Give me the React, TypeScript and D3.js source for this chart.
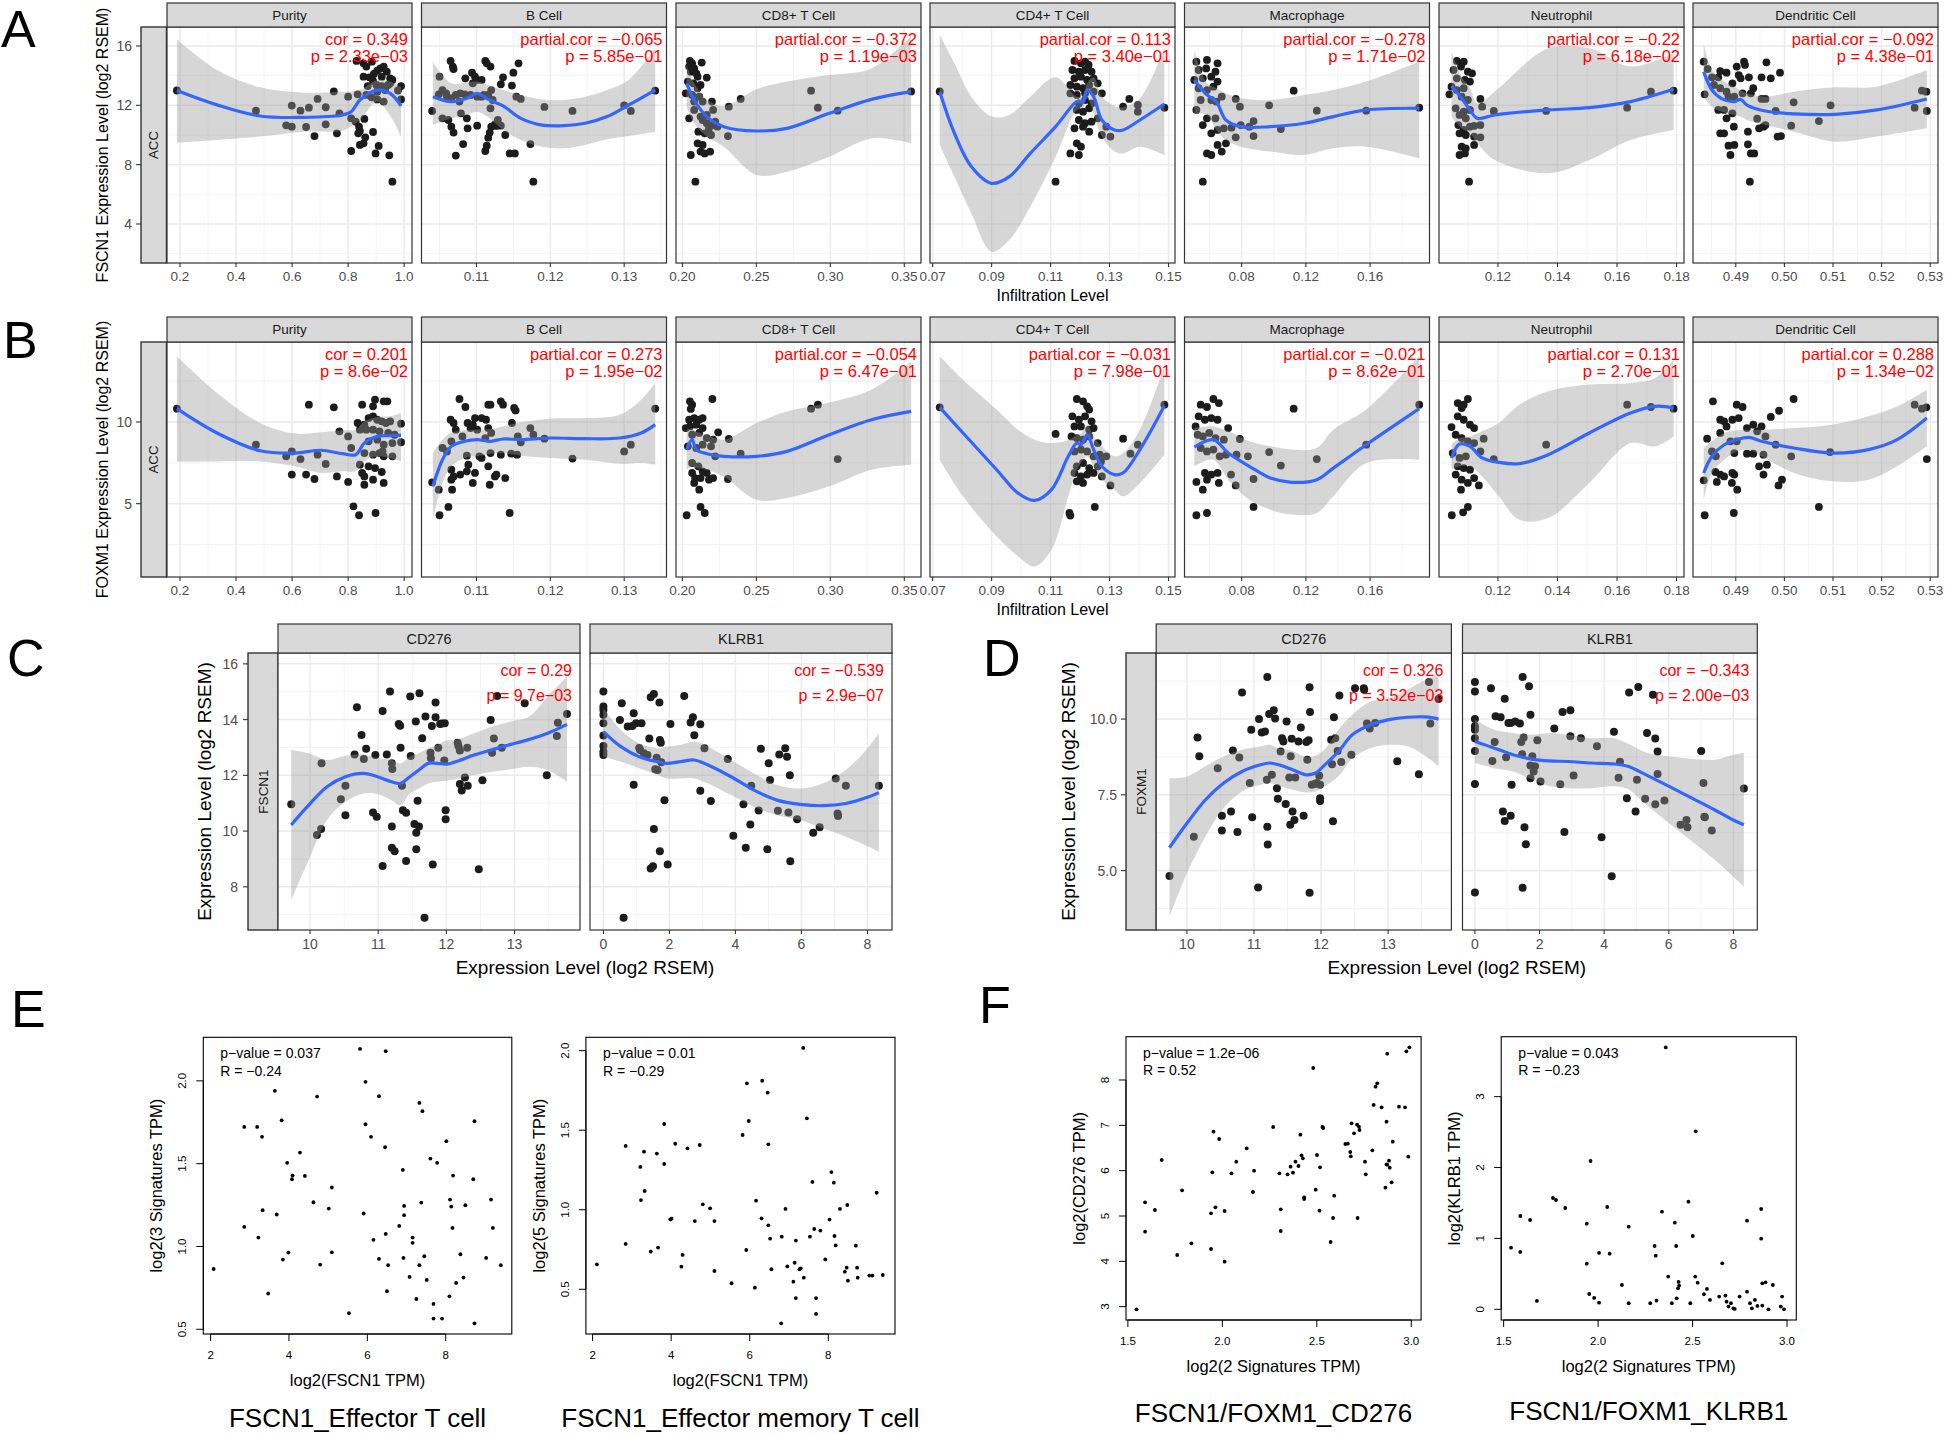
import React from "react";
import * as d3 from "d3";

type P = [number, number];
type F = [number, number, number, number]; // x, fit, lower, upper

const FONT = "'Liberation Sans', Arial, Helvetica, sans-serif";
const M = "\u2212";

// ================= Panels A & B : immune infiltration (TIMER) =================
const CELL_TYPES = ["Purity", "B Cell", "CD8+ T Cell", "CD4+ T Cell", "Macrophage", "Neutrophil", "Dendritic Cell"];
const CELL_XDOMAINS: [number, number][] = [
  [0.1536, 1.028], [0.10256, 0.13573], [0.1957, 0.3613], [0.0691, 0.1522], [0.0444, 0.197], [0.1002, 0.1825], [0.4812, 0.5316],
];
const CELL_XTICKS: string[][] = [
  ["0.2", "0.4", "0.6", "0.8", "1.0"],
  ["0.11", "0.12", "0.13"],
  ["0.20", "0.25", "0.30", "0.35"],
  ["0.07", "0.09", "0.11", "0.13", "0.15"],
  ["0.08", "0.12", "0.16"],
  ["0.12", "0.14", "0.16", "0.18"],
  ["0.49", "0.50", "0.51", "0.52", "0.53"],
];
const ROW_A_YDOMAIN: [number, number] = [1.37, 17.28];
const ROW_B_YDOMAIN: [number, number] = [0.51, 14.9];
const ROW_A_YTICKS = ["4", "8", "12", "16"];
const ROW_B_YTICKS = ["5", "10"];
const ROW_A_TITLE = "FSCN1 Expression Level (log2 RSEM)";
const ROW_B_TITLE = "FOXM1 Expression Level (log2 RSEM)";
const INFIL_TITLE = "Infiltration Level";

const A_ANN: string[][] = [
  ["cor = 0.349", `p = 2.33e${M}03`],
  [`partial.cor = ${M}0.065`, `p = 5.85e${M}01`],
  [`partial.cor = ${M}0.372`, `p = 1.19e${M}03`],
  ["partial.cor = 0.113", `p = 3.40e${M}01`],
  [`partial.cor = ${M}0.278`, `p = 1.71e${M}02`],
  [`partial.cor = ${M}0.22`, `p = 6.18e${M}02`],
  [`partial.cor = ${M}0.092`, `p = 4.38e${M}01`],
];
const B_ANN: string[][] = [
  ["cor = 0.201", `p = 8.6e${M}02`],
  ["partial.cor = 0.273", `p = 1.95e${M}02`],
  [`partial.cor = ${M}0.054`, `p = 6.47e${M}01`],
  [`partial.cor = ${M}0.031`, `p = 7.98e${M}01`],
  [`partial.cor = ${M}0.021`, `p = 8.62e${M}01`],
  ["partial.cor = 0.131", `p = 2.70e${M}01`],
  ["partial.cor = 0.288", `p = 1.34e${M}02`],
];

const A_PURITY_PTS: P[] = [[0.189,13.0],[0.471,11.64],[0.599,11.98],[0.63,11.64],[0.66,11.84],[0.691,12.43],[0.72,11.87],[0.749,12.94],[0.579,10.65],[0.599,10.56],[0.65,10.54],[0.72,10.72],[0.68,9.93],[0.76,10.11],[0.769,11.46],[0.8,12.58],[0.811,8.92],[0.83,14.99],[0.855,14.83],[0.885,14.94],[0.865,14.61],[0.855,13.93],[0.876,13.89],[0.892,14.11],[0.904,14.34],[0.915,14.49],[0.927,14.61],[0.938,14.27],[0.92,13.93],[0.95,13.82],[0.958,13.71],[0.889,13.64],[0.87,13.3],[0.901,13.37],[0.92,13.3],[0.943,13.37],[0.904,12.92],[0.932,13.03],[0.834,12.74],[0.865,12.7],[0.884,12.54],[0.904,12.4],[0.927,12.25],[0.989,13.3],[0.989,12.4],[0.978,13.0],[0.811,11.12],[0.827,10.9],[0.858,11.08],[0.839,10.56],[0.836,10.11],[0.842,10.27],[0.861,9.84],[0.889,10.2],[0.842,9.33],[0.855,9.44],[0.909,9.26],[0.898,8.76],[0.947,8.63],[0.958,6.85],[0.95,13.48]];
const A_PURITY_FIT: F[] = [[0.189,13.0,9.48,16.45],[0.332,12.03,9.66,14.38],[0.486,11.28,9.89,13.21],[0.641,11.19,10.22,12.85],[0.78,11.35,10.29,12.92],[0.811,11.57,10.6,12.94],[0.842,12.36,11.0,13.03],[0.904,13.03,12.25,13.71],[0.95,12.8,11.3,13.6],[0.989,11.96,9.89,13.21]];

const A_BCELL_PTS: P[] = [[0.104,11.62],[0.105,13.93],[0.1049,12.74],[0.1054,13.03],[0.1059,12.81],[0.1065,14.99],[0.1068,14.61],[0.1069,14.45],[0.106,12.58],[0.1066,12.47],[0.1072,12.7],[0.1077,12.25],[0.1054,11.12],[0.1062,11.01],[0.1066,10.56],[0.1069,10.16],[0.1072,8.61],[0.1082,9.39],[0.1087,11.12],[0.1088,10.45],[0.1094,14.2],[0.1085,13.82],[0.1098,13.93],[0.1101,13.71],[0.1107,13.71],[0.1112,14.99],[0.1114,14.83],[0.1119,14.61],[0.112,13.03],[0.1116,12.7],[0.1107,12.58],[0.1101,10.63],[0.1095,13.48],[0.1078,12.81],[0.1084,12.74],[0.1092,12.7],[0.1101,12.58],[0.111,12.7],[0.1119,11.8],[0.1125,10.72],[0.112,10.56],[0.1127,10.61],[0.1133,10.63],[0.1118,10.16],[0.1116,9.82],[0.1114,9.28],[0.1112,8.92],[0.1139,10.0],[0.1145,8.76],[0.1152,8.76],[0.1136,13.89],[0.1133,13.42],[0.1148,13.33],[0.115,14.2],[0.1157,14.83],[0.1154,12.58],[0.116,12.43],[0.1173,9.39],[0.1177,6.85],[0.1192,11.89],[0.123,11.62],[0.13,12.0],[0.1309,11.62],[0.1342,12.99],[0.1079,11.46],[0.1122,12.36],[0.1129,11.01]];
const A_BCELL_FIT: F[] = [[0.1041,12.58,10.67,14.94],[0.1066,12.25,11.12,13.48],[0.1087,12.47,11.35,13.55],[0.1101,12.81,11.57,13.6],[0.1116,12.4,11.19,13.37],[0.1136,11.96,10.34,13.03],[0.116,11.12,9.66,12.7],[0.1189,10.67,9.21,12.4],[0.1218,10.63,9.1,12.36],[0.1247,10.79,9.33,12.58],[0.1277,11.24,9.71,13.03],[0.1306,12.02,9.93,13.71],[0.1342,13.03,10.22,15.84]];

const A_CD8_PTS: P[] = [[0.2051,14.99],[0.2066,14.83],[0.2046,14.61],[0.208,14.49],[0.2131,14.88],[0.2057,14.27],[0.2094,14.16],[0.2103,13.93],[0.2165,13.87],[0.2037,13.6],[0.2074,13.48],[0.2123,13.37],[0.2103,13.15],[0.2023,12.81],[0.2066,12.7],[0.2114,12.58],[0.208,12.25],[0.2137,12.25],[0.22,12.25],[0.2208,11.69],[0.208,11.69],[0.2123,11.24],[0.2046,11.12],[0.2137,11.01],[0.2165,10.79],[0.2208,10.67],[0.2237,10.56],[0.2108,10.22],[0.2151,10.11],[0.2194,10.0],[0.2103,9.44],[0.2137,9.33],[0.2123,8.88],[0.2151,8.76],[0.2188,8.88],[0.2057,8.65],[0.2088,6.85],[0.2308,9.93],[0.2314,11.91],[0.2394,12.43],[0.287,12.99],[0.2916,11.84],[0.305,11.64],[0.3546,12.94],[0.2165,11.35],[0.2222,10.9],[0.218,10.45]];
const A_CD8_FIT: F[] = [[0.2029,13.48,11.91,14.72],[0.208,12.36,10.79,13.48],[0.2165,11.24,9.89,12.4],[0.228,10.56,9.21,11.96],[0.2502,10.27,7.3,13.08],[0.2707,10.45,7.53,13.6],[0.2993,11.46,8.54,14.04],[0.3278,12.4,9.77,14.49],[0.3546,12.92,9.44,16.67]];

const A_CD4_PTS: P[] = [[0.0724,12.94],[0.1117,6.85],[0.1181,14.99],[0.1203,14.83],[0.1217,14.94],[0.1229,14.72],[0.1174,14.38],[0.1196,14.27],[0.1217,14.38],[0.1239,14.27],[0.1181,13.82],[0.1203,13.93],[0.1224,13.71],[0.1246,13.82],[0.1167,13.37],[0.1189,13.26],[0.121,13.15],[0.1231,13.37],[0.126,13.48],[0.1167,12.81],[0.1189,12.7],[0.1217,12.81],[0.1246,12.92],[0.1274,12.81],[0.1196,12.13],[0.1217,12.36],[0.1239,12.13],[0.1189,11.69],[0.121,11.57],[0.1231,11.8],[0.1196,11.01],[0.1217,10.79],[0.1239,10.9],[0.126,11.12],[0.1181,10.45],[0.121,10.56],[0.1231,10.22],[0.1289,10.56],[0.1303,9.89],[0.1189,9.44],[0.1203,9.21],[0.1167,8.76],[0.1196,8.65],[0.1274,10.0],[0.1346,11.91],[0.1367,12.43],[0.1396,12.02],[0.1396,11.57],[0.1486,11.84]];
const A_CD4_FIT: F[] = [[0.0724,12.92,9.33,16.74],[0.0774,10.11,7.19,14.83],[0.0831,7.87,4.72,12.58],[0.09,6.74,2.13,11.24],[0.096,7.19,2.92,11.35],[0.1031,8.76,5.17,12.58],[0.1117,10.56,8.54,13.89],[0.1189,12.25,11.69,12.58],[0.121,12.25,11.8,12.7],[0.1224,13.03,12.47,13.48],[0.1246,12.58,11.46,13.89],[0.1274,11.01,9.89,12.58],[0.1317,10.34,8.88,11.96],[0.1346,10.34,8.76,11.87],[0.1403,11.01,9.21,12.47],[0.1486,12.09,8.65,15.84]];

const A_MACRO_PTS: P[] = [[0.0518,14.94],[0.0584,15.06],[0.065,14.83],[0.0532,14.38],[0.0579,14.49],[0.0637,14.27],[0.0505,13.71],[0.0558,13.82],[0.0611,13.93],[0.065,13.6],[0.0532,13.15],[0.0584,13.03],[0.0624,13.26],[0.0676,12.58],[0.0545,12.36],[0.0611,12.36],[0.0642,12.25],[0.0518,11.69],[0.0584,11.12],[0.0637,11.12],[0.0558,10.67],[0.0611,10.11],[0.065,10.34],[0.0689,10.45],[0.0584,8.76],[0.0611,8.65],[0.065,9.33],[0.0702,9.44],[0.0676,8.88],[0.0558,6.85],[0.0763,12.43],[0.0789,11.91],[0.0737,10.49],[0.0763,9.84],[0.0794,10.67],[0.0848,10.56],[0.0874,10.94],[0.0874,9.93],[0.0971,12.0],[0.1044,10.4],[0.1124,12.99],[0.1268,11.64],[0.1576,11.64],[0.1906,11.84]];
const A_MACRO_FIT: F[] = [[0.0505,13.71,11.46,15.73],[0.0584,12.7,11.35,13.48],[0.0642,12.25,10.34,13.15],[0.0702,11.01,9.66,12.81],[0.0794,10.56,9.21,12.47],[0.0979,10.56,8.88,12.36],[0.1189,10.79,8.65,12.7],[0.1371,11.24,9.1,13.03],[0.1576,11.69,9.21,13.6],[0.1906,11.8,8.43,14.94]];

const A_NEUTRO_PTS: P[] = [[0.1062,14.99],[0.1085,14.94],[0.1076,14.61],[0.1099,14.27],[0.1051,14.38],[0.1113,14.16],[0.1062,13.82],[0.1089,13.71],[0.1106,13.6],[0.1044,13.26],[0.1062,13.03],[0.1085,13.15],[0.1037,12.74],[0.1078,12.58],[0.1099,12.36],[0.1058,11.8],[0.1085,11.57],[0.1106,11.69],[0.1141,12.43],[0.1147,11.91],[0.1186,11.62],[0.1071,11.35],[0.1092,11.12],[0.1067,10.67],[0.1085,10.34],[0.1106,10.56],[0.1141,10.67],[0.112,10.61],[0.1071,10.11],[0.1092,10.0],[0.112,9.89],[0.1141,9.84],[0.1078,9.21],[0.1092,9.1],[0.112,9.33],[0.1071,8.65],[0.1089,8.76],[0.1103,6.85],[0.1362,11.62],[0.1634,11.84],[0.1714,12.92],[0.179,12.99]];
const A_NEUTRO_FIT: F[] = [[0.1044,13.3,11.24,15.62],[0.1078,12.47,10.45,13.93],[0.1106,11.69,10.11,13.15],[0.1131,11.12,9.44,12.13],[0.1189,11.35,8.31,12.92],[0.1369,11.69,7.42,15.84],[0.1507,11.84,8.31,15.84],[0.1645,12.25,9.66,14.61],[0.179,13.08,10.34,15.51]];

const A_DENDR_PTS: P[] = [[0.4834,14.94],[0.4842,14.45],[0.4836,12.74],[0.4851,13.89],[0.4864,13.89],[0.4868,14.31],[0.4881,14.2],[0.4855,13.37],[0.4868,13.15],[0.4881,12.92],[0.4893,13.48],[0.4902,14.61],[0.4906,14.04],[0.491,13.82],[0.4917,14.94],[0.4919,14.72],[0.4927,13.89],[0.4936,13.15],[0.4931,12.81],[0.4914,12.81],[0.4897,12.58],[0.4885,12.58],[0.4864,11.69],[0.4876,11.69],[0.4893,11.46],[0.4881,11.12],[0.4896,10.56],[0.4868,10.11],[0.4876,10.11],[0.4885,9.28],[0.4897,9.33],[0.4889,8.65],[0.4925,10.22],[0.4925,9.37],[0.4931,8.76],[0.4938,8.76],[0.4944,11.1],[0.4948,10.45],[0.4957,10.56],[0.4961,10.67],[0.4953,12.43],[0.4961,12.43],[0.4953,13.89],[0.4963,14.9],[0.4972,13.82],[0.4991,14.2],[0.4982,11.62],[0.4986,9.89],[0.4993,9.93],[0.4929,6.85],[0.5014,10.63],[0.5019,12.2],[0.5071,10.94],[0.5095,12.0],[0.5268,11.84],[0.5283,12.99],[0.5292,12.92],[0.5293,11.62]];
const A_DENDR_FIT: F[] = [[0.4834,14.27,12.58,16.18],[0.4851,13.03,11.91,14.38],[0.4872,12.43,11.57,13.71],[0.4897,12.25,11.35,13.21],[0.491,12.4,11.24,13.03],[0.4923,12.02,11.01,12.81],[0.4961,11.62,10.67,12.58],[0.502,11.42,10.22,12.92],[0.5105,11.39,9.55,13.21],[0.519,11.69,9.89,13.26],[0.5293,12.43,10.45,14.38]];

const B_PURITY_PTS: P[] = [[0.189,10.82],[0.471,8.61],[0.579,7.9],[0.599,8.2],[0.63,7.73],[0.66,11.06],[0.691,8.0],[0.72,7.43],[0.749,10.9],[0.769,9.43],[0.8,9.12],[0.811,8.41],[0.599,6.78],[0.65,6.78],[0.68,6.51],[0.76,6.67],[0.8,6.33],[0.819,4.84],[0.839,4.29],[0.898,4.43],[0.85,11.06],[0.889,10.96],[0.896,11.37],[0.927,11.27],[0.94,11.27],[0.834,9.94],[0.858,9.84],[0.873,10.24],[0.889,10.35],[0.904,10.14],[0.92,10.04],[0.935,9.94],[0.95,10.04],[0.842,9.53],[0.865,9.53],[0.889,9.53],[0.912,9.43],[0.943,9.33],[0.966,9.22],[0.989,9.9],[0.989,8.76],[0.873,8.82],[0.904,8.92],[0.927,8.61],[0.958,8.71],[0.858,8.1],[0.889,8.0],[0.912,8.1],[0.927,7.9],[0.958,7.9],[0.842,7.39],[0.873,7.29],[0.85,6.88],[0.858,6.67],[0.889,6.47],[0.92,6.94],[0.927,6.27],[0.858,6.16],[0.896,7.18],[0.923,8.2]];
const B_PURITY_FIT: F[] = [[0.189,10.82,7.59,14.02],[0.332,9.33,7.59,11.78],[0.486,8.24,7.59,9.94],[0.61,8.1,7.29,9.29],[0.703,8.27,6.88,9.37],[0.78,8.06,6.98,9.49],[0.827,8.0,6.98,9.53],[0.858,8.71,7.59,10.04],[0.904,9.12,7.9,10.31],[0.95,9.16,7.8,10.35],[0.989,9.18,7.59,10.55]];

const B_BCELL_PTS: P[] = [[0.104,6.31],[0.105,4.29],[0.1062,4.8],[0.1049,5.86],[0.1054,8.41],[0.106,8.2],[0.1066,8.82],[0.1069,9.94],[0.1065,10.14],[0.1072,9.53],[0.1077,11.41],[0.1085,10.92],[0.1088,9.94],[0.1081,9.12],[0.1092,9.63],[0.1095,9.84],[0.1098,10.24],[0.1101,9.53],[0.1107,10.24],[0.1113,10.14],[0.1116,11.06],[0.1119,11.06],[0.1133,11.27],[0.1136,11.06],[0.1151,10.86],[0.1153,10.71],[0.1148,9.94],[0.1116,9.63],[0.112,9.33],[0.1112,9.02],[0.1087,7.94],[0.1089,7.39],[0.1098,6.88],[0.1095,6.27],[0.1104,7.9],[0.1107,7.8],[0.1116,7.29],[0.1119,8.1],[0.1125,6.67],[0.1127,6.78],[0.1118,6.16],[0.1133,8.0],[0.1139,6.57],[0.1066,7.08],[0.1069,6.67],[0.1066,6.47],[0.1067,5.86],[0.1087,6.98],[0.1078,6.78],[0.1147,8.06],[0.1155,8.0],[0.1156,9.12],[0.116,8.76],[0.1173,9.63],[0.1177,9.22],[0.1192,8.98],[0.1145,4.43],[0.123,7.76],[0.13,8.2],[0.1309,8.61],[0.1342,10.82]];
const B_BCELL_FIT: F[] = [[0.1041,6.06,4.02,8.1],[0.1054,7.69,6.27,8.92],[0.1066,8.51,7.29,9.33],[0.1084,8.82,7.8,9.49],[0.1101,8.92,7.9,9.53],[0.1119,8.82,8.06,9.57],[0.1136,8.96,8.1,9.73],[0.116,8.92,7.94,9.98],[0.1201,9.02,7.8,10.22],[0.1247,8.98,7.69,10.24],[0.1294,9.02,7.45,10.45],[0.1323,9.33,7.49,11.37],[0.1342,9.84,7.39,12.39]];

const B_CD8_PTS: P[] = [[0.2051,11.27],[0.2066,11.06],[0.2057,10.8],[0.2203,11.41],[0.2046,10.14],[0.208,10.24],[0.2114,10.14],[0.2137,10.24],[0.2051,9.73],[0.2094,9.84],[0.2137,9.63],[0.2023,9.63],[0.2066,9.22],[0.2114,9.33],[0.2165,9.02],[0.2208,8.92],[0.2242,9.37],[0.2037,8.51],[0.2094,8.41],[0.2137,8.61],[0.2194,8.51],[0.2222,7.9],[0.2066,7.49],[0.2108,7.29],[0.2137,6.98],[0.2165,6.88],[0.2066,6.88],[0.2086,6.57],[0.2123,6.57],[0.218,6.47],[0.2208,6.57],[0.208,6.27],[0.2114,5.86],[0.2029,4.29],[0.2123,4.8],[0.2151,4.43],[0.2314,8.96],[0.2394,8.06],[0.2308,6.51],[0.287,10.82],[0.2916,11.06],[0.305,7.73]];
const B_CD8_FIT: F[] = [[0.2029,8.31,7.08,9.53],[0.2066,8.92,7.29,9.6],[0.2094,8.31,7.18,9.4],[0.2165,8.06,7.08,9.22],[0.228,7.9,6.67,8.92],[0.2502,7.9,5.24,9.94],[0.2707,8.2,5.35,10.65],[0.2993,9.22,6.06,11.2],[0.3278,10.14,7.08,11.98],[0.3546,10.65,7.39,13.71]];

const B_CD4_PTS: P[] = [[0.0724,10.9],[0.1117,9.27],[0.1164,4.43],[0.1167,4.27],[0.125,4.8],[0.1346,8.98],[0.1396,8.61],[0.1371,8.06],[0.1289,7.9],[0.1303,6.12],[0.1486,11.06],[0.1189,11.41],[0.121,11.27],[0.1224,10.96],[0.1231,10.76],[0.1174,10.35],[0.1196,10.14],[0.1217,10.35],[0.1239,10.04],[0.1181,9.73],[0.1203,9.73],[0.1231,9.53],[0.1246,9.63],[0.1171,9.12],[0.1189,9.02],[0.121,8.92],[0.1231,9.12],[0.126,8.71],[0.1181,8.2],[0.1203,8.31],[0.1224,8.2],[0.1246,7.9],[0.1267,8.0],[0.1189,7.29],[0.121,7.49],[0.1231,7.18],[0.126,7.29],[0.1181,6.88],[0.1203,6.67],[0.1224,6.78],[0.1246,6.88],[0.1274,6.67],[0.1189,6.37],[0.121,6.27],[0.1271,7.59]];
const B_CD4_FIT: F[] = [[0.0724,10.9,7.69,14.02],[0.0803,9.33,5.45,12.59],[0.0917,7.08,3.0,10.76],[0.0989,5.65,1.78,9.53],[0.1046,5.2,1.16,8.92],[0.1103,5.86,2.18,8.71],[0.116,7.9,5.45,8.9],[0.1189,8.71,7.08,9.2],[0.1203,8.61,7.49,9.3],[0.1224,9.22,7.9,9.84],[0.1246,8.31,7.29,9.12],[0.1274,7.29,6.47,8.51],[0.1317,6.78,5.86,7.9],[0.1346,6.88,5.45,8.1],[0.1403,8.31,6.27,9.53],[0.1486,11.0,8.0,13.41]];

const B_MACRO_PTS: P[] = [[0.0518,4.29],[0.0584,4.43],[0.0874,4.8],[0.0513,9.73],[0.0545,11.06],[0.0584,10.92],[0.0624,11.41],[0.0658,11.16],[0.0532,10.35],[0.0571,10.14],[0.0611,10.24],[0.065,10.14],[0.0716,9.63],[0.0526,9.22],[0.0558,9.12],[0.0598,9.33],[0.0637,9.02],[0.0689,8.92],[0.0789,8.96],[0.0545,8.41],[0.0584,8.2],[0.0624,8.31],[0.0663,7.9],[0.0702,8.0],[0.0768,8.0],[0.0839,7.9],[0.0571,6.88],[0.0611,6.78],[0.065,6.88],[0.0584,6.47],[0.0658,6.27],[0.0558,5.86],[0.0518,6.33],[0.0734,6.78],[0.0763,6.12],[0.0874,6.51],[0.0971,8.16],[0.1044,7.33],[0.1124,10.82],[0.1268,7.73],[0.1576,8.61],[0.1906,11.06]];
const B_MACRO_FIT: F[] = [[0.0505,8.47,7.29,9.63],[0.0624,8.92,7.69,9.73],[0.0716,8.1,6.47,9.43],[0.0848,7.29,5.24,8.82],[0.0979,6.57,4.63,8.51],[0.1111,6.31,4.33,8.31],[0.1268,6.47,4.43,8.41],[0.1371,7.18,5.45,9.53],[0.1576,8.61,7.49,10.76],[0.1906,10.82,7.69,14.02]];

const B_NEUTRO_PTS: P[] = [[0.1065,11.16],[0.1085,11.06],[0.1099,11.41],[0.1078,10.86],[0.1044,9.69],[0.1065,10.35],[0.1085,10.14],[0.1106,9.84],[0.112,9.63],[0.1058,9.22],[0.1078,9.02],[0.1099,8.82],[0.112,8.71],[0.1141,8.2],[0.1152,8.98],[0.1186,7.73],[0.1048,8.1],[0.1071,7.8],[0.1092,7.9],[0.1065,7.29],[0.1085,7.18],[0.1106,7.08],[0.1058,6.78],[0.1078,6.47],[0.1099,6.27],[0.112,6.57],[0.1136,6.12],[0.1076,5.86],[0.1045,4.29],[0.1083,4.47],[0.1099,4.8],[0.1362,8.61],[0.1634,11.06],[0.1714,10.92],[0.179,10.82]];
const B_NEUTRO_FIT: F[] = [[0.1044,7.8,7.08,8.61],[0.1071,8.65,7.29,9.02],[0.1106,8.51,7.29,9.12],[0.1147,7.8,6.67,9.43],[0.1203,7.53,5.45,9.94],[0.1272,7.45,4.02,11.06],[0.1369,8.0,4.12,11.88],[0.1507,9.33,6.27,12.29],[0.1645,10.55,8.71,12.39],[0.1728,10.96,8.51,12.69],[0.179,10.86,9.12,13.82]];

const B_DENDR_PTS: P[] = [[0.4853,11.27],[0.4902,11.06],[0.4914,10.92],[0.5019,11.41],[0.4989,10.69],[0.4972,10.31],[0.4868,10.14],[0.4876,10.04],[0.4893,10.14],[0.4906,10.24],[0.4881,9.73],[0.4868,9.33],[0.4841,8.98],[0.4889,8.82],[0.4902,8.82],[0.4923,9.63],[0.4936,9.84],[0.4944,9.43],[0.4953,9.73],[0.4961,9.12],[0.4982,8.61],[0.5014,7.9],[0.4851,8.2],[0.4859,7.9],[0.4897,8.1],[0.4923,8.06],[0.4936,8.06],[0.4957,8.0],[0.4948,7.29],[0.4964,7.39],[0.4957,6.78],[0.4858,6.94],[0.4868,6.78],[0.4876,6.67],[0.4893,6.88],[0.4897,6.78],[0.4861,6.33],[0.4892,6.27],[0.4903,5.86],[0.4988,6.12],[0.4995,6.47],[0.4834,6.43],[0.4836,4.29],[0.4896,4.43],[0.5071,4.8],[0.5094,8.16],[0.5268,11.06],[0.5283,10.82],[0.5292,10.9],[0.5293,7.73]];
const B_DENDR_FIT: F[] = [[0.4834,6.88,5.24,8.41],[0.4851,7.9,6.88,8.82],[0.4876,8.61,7.69,9.33],[0.4902,8.92,8.2,9.49],[0.4927,9.06,8.31,9.53],[0.4953,8.82,7.9,9.53],[0.502,8.41,6.88,9.63],[0.5097,8.1,6.37,9.84],[0.5173,8.31,6.47,10.35],[0.5232,8.92,7.29,10.96],[0.5293,10.24,8.51,11.98]];

const A_PTS = [A_PURITY_PTS, A_BCELL_PTS, A_CD8_PTS, A_CD4_PTS, A_MACRO_PTS, A_NEUTRO_PTS, A_DENDR_PTS];
const A_FITS = [A_PURITY_FIT, A_BCELL_FIT, A_CD8_FIT, A_CD4_FIT, A_MACRO_FIT, A_NEUTRO_FIT, A_DENDR_FIT];
const B_PTS = [B_PURITY_PTS, B_BCELL_PTS, B_CD8_PTS, B_CD4_PTS, B_MACRO_PTS, B_NEUTRO_PTS, B_DENDR_PTS];
const B_FITS = [B_PURITY_FIT, B_BCELL_FIT, B_CD8_FIT, B_CD4_FIT, B_MACRO_FIT, B_NEUTRO_FIT, B_DENDR_FIT];

// ================= Panels C & D : gene correlations =================
const GENES = ["CD276", "KLRB1"];
const CD_XTICKS = [["10", "11", "12", "13"], ["0", "2", "4", "6", "8"]];
const C_XDOMAINS: [number, number][] = [[9.53, 13.96], [-0.406, 8.745]];
const D_XDOMAINS: [number, number][] = [[9.542, 13.944], [-0.384, 8.74]];
const C_YDOMAIN: [number, number] = [6.45, 16.39];
const D_YDOMAIN: [number, number] = [3.04, 12.18];
const C_YTICKS = ["8", "10", "12", "14", "16"];
const D_YTICKS = ["5.0", "7.5", "10.0"];
const CD_TITLE = "Expression Level (log2 RSEM)";
const C_ANN = [["cor = 0.29", `p = 9.7e${M}03`], [`cor = ${M}0.539`, `p = 2.9e${M}07`]];
const D_ANN = [["cor = 0.326", `p = 3.52e${M}03`], [`cor = ${M}0.343`, `p = 2.00e${M}03`]];

const C_CD276_PTS: P[] = [[9.724,10.96],[10.101,9.86],[10.162,10.07],[10.169,12.43],[10.452,11.14],[10.519,11.63],[10.519,10.57],[10.688,14.44],[10.755,13.45],[10.789,12.59],[10.823,12.95],[10.654,12.75],[10.958,12.73],[10.924,10.67],[10.978,10.51],[11.065,14.31],[11.065,8.75],[11.126,12.75],[11.173,15.01],[11.2,12.43],[11.207,12.23],[11.2,10.16],[11.2,9.4],[11.241,9.28],[11.301,13.84],[11.322,13.78],[11.328,12.99],[11.349,11.63],[11.362,10.75],[11.409,10.66],[11.409,8.93],[11.47,14.83],[11.477,12.69],[11.551,13.93],[11.558,9.94],[11.558,9.35],[11.578,11.09],[11.531,10.25],[11.598,10.16],[11.605,14.95],[11.645,13.33],[11.693,14.11],[11.679,6.89],[11.767,12.81],[11.773,12.61],[11.787,13.77],[11.8,8.8],[11.841,14.61],[11.841,14.08],[11.881,12.99],[11.908,13.84],[11.929,13.86],[11.976,13.87],[11.969,12.53],[11.989,10.75],[11.989,10.42],[12.165,13.17],[12.178,13.04],[12.198,12.89],[12.198,11.69],[12.225,11.46],[12.272,11.92],[12.306,12.99],[12.313,11.63],[12.475,8.63],[12.529,11.82],[12.65,13.99],[12.697,13.32],[12.67,12.81],[12.744,14.85],[12.812,12.99],[13.149,14.59],[13.473,12.0],[13.621,13.41],[13.635,13.89],[13.769,14.2]];
const C_CD276_FIT: F[] = [[9.724,10.22,7.52,12.91],[9.98,10.93,8.96,12.79],[10.249,11.59,10.4,12.55],[10.519,11.95,11.05,12.7],[10.789,12.07,11.35,12.75],[10.991,11.95,11.33,12.61],[11.194,11.77,11.11,12.55],[11.328,11.71,10.93,12.43],[11.463,11.95,11.35,12.67],[11.598,12.19,11.53,12.79],[11.733,12.43,11.71,12.97],[11.868,12.43,11.77,13.09],[12.003,12.4,11.81,13.25],[12.138,12.49,11.86,13.27],[12.407,12.73,12.01,13.51],[12.677,12.93,12.13,13.75],[12.947,13.11,12.22,13.93],[13.216,13.29,12.31,14.11],[13.486,13.51,12.19,14.83],[13.769,13.83,11.77,15.54]];
const C_KLRB1_PTS: P[] = [[0,15.01],[0,14.47],[0,14.35],[0,14.17],[0,13.87],[0,13.43],[0,13.05],[0,12.85],[0,12.73],[0.557,14.59],[0.501,13.99],[0.612,6.89],[0.737,13.75],[0.877,13.77],[0.918,14.23],[0.918,11.66],[0.988,13.87],[1.085,12.98],[1.113,12.91],[1.155,13.87],[1.224,12.79],[1.336,12.73],[1.391,13.32],[1.433,14.8],[1.53,14.92],[1.572,12.22],[1.53,10.07],[1.433,8.66],[1.503,8.74],[1.614,12.63],[1.642,12.19],[1.697,14.61],[1.711,13.27],[1.739,13.17],[1.753,12.47],[1.711,9.28],[1.85,11.11],[1.948,8.8],[2.031,13.84],[2.449,14.85],[2.643,13.9],[2.713,14.08],[2.755,13.44],[2.936,13.83],[2.936,11.45],[3.061,12.97],[3.256,11.08],[3.77,12.59],[3.937,9.83],[4.243,10.96],[4.313,9.4],[4.452,10.24],[4.48,11.63],[4.703,10.74],[4.772,12.95],[5.009,12.43],[4.967,9.35],[5.05,11.83],[5.287,10.73],[5.329,12.75],[5.51,12.97],[5.565,12.67],[5.607,10.67],[5.649,12.0],[5.663,8.92],[5.871,10.42],[6.358,9.94],[6.553,10.14],[7.04,11.89],[7.096,10.63],[7.11,10.54],[7.346,11.63],[8.348,11.63]];
const C_KLRB1_FIT: F[] = [[0,13.57,12.67,14.41],[0.529,13.03,12.49,13.63],[1.085,12.67,12.25,13.15],[1.642,12.49,12.01,12.97],[1.92,12.43,11.89,13.03],[2.337,12.49,11.89,13.09],[2.755,12.55,11.89,13.21],[3.172,12.37,11.71,13.03],[3.868,11.95,11.29,12.55],[4.563,11.47,10.87,12.07],[5.259,11.11,10.57,11.65],[5.955,10.96,10.4,11.53],[6.65,10.91,10.1,11.71],[7.346,10.99,9.8,12.19],[8.042,11.23,9.44,13.03],[8.348,11.38,9.26,13.51]];

const D_CD276_PTS: P[] = [[9.74,4.82],[10.103,6.12],[10.158,9.39],[10.185,8.77],[10.459,8.38],[10.521,6.81],[10.521,6.32],[10.658,6.95],[10.685,8.96],[10.753,6.27],[10.781,8.73],[10.822,10.88],[10.938,7.89],[10.973,6.76],[10.959,9.65],[11.062,4.44],[11.075,10.0],[11.116,9.56],[11.164,9.59],[11.192,8.0],[11.199,11.39],[11.199,6.45],[11.205,5.86],[11.226,10.17],[11.267,8.16],[11.295,10.29],[11.315,10.02],[11.342,7.72],[11.356,7.37],[11.397,8.93],[11.418,9.37],[11.438,9.26],[11.486,9.92],[11.473,7.2],[11.527,8.07],[11.541,6.51],[11.562,9.35],[11.548,8.77],[11.575,6.95],[11.603,6.67],[11.616,8.07],[11.664,9.26],[11.699,9.72],[11.74,6.81],[11.795,8.66],[11.781,9.24],[11.815,9.3],[11.829,11.05],[11.829,4.27],[11.836,10.23],[11.863,7.83],[11.904,7.86],[11.938,7.89],[11.973,8.13],[11.986,7.83],[11.986,7.39],[11.986,7.3],[12.151,9.32],[12.164,8.51],[12.178,6.63],[12.192,10.06],[12.212,9.37],[12.247,8.95],[12.274,10.78],[12.301,8.58],[12.452,8.82],[12.507,11.02],[12.637,11.02],[12.644,10.97],[12.685,9.85],[12.726,9.69],[12.808,9.87],[13.137,8.61],[13.459,8.18],[13.61,11.22],[13.63,9.85],[13.753,10.66]];
const D_CD276_FIT: F[] = [[9.74,5.76,3.48,8.05],[10.0,6.56,4.91,8.1],[10.274,7.33,6.12,8.44],[10.548,7.89,7.06,8.77],[10.822,8.27,7.61,8.99],[11.096,8.49,7.83,9.1],[11.233,8.55,7.89,9.15],[11.37,8.49,7.8,9.04],[11.575,8.33,7.67,8.95],[11.781,8.16,7.58,8.75],[11.918,8.22,7.61,8.8],[12.055,8.49,7.78,9.0],[12.26,8.93,8.11,9.65],[12.466,9.48,8.71,10.14],[12.74,9.81,9.04,10.58],[13.014,9.98,9.15,10.69],[13.288,10.06,9.1,10.97],[13.562,10.07,8.77,11.3],[13.753,10.0,8.44,11.46]];
const D_KLRB1_PTS: P[] = [[0,11.22],[0,10.91],[0,10.0],[0,9.76],[0,9.65],[0,9.37],[0,8.95],[0,7.86],[0,4.28],[0.497,11.02],[0.54,8.62],[0.611,9.24],[0.639,10.09],[0.795,10.06],[0.866,6.95],[0.923,6.64],[0.923,10.67],[0.966,8.74],[1.037,9.87],[1.108,9.87],[1.136,7.83],[1.108,6.81],[1.25,9.92],[1.392,9.85],[1.435,9.24],[1.463,8.84],[1.477,11.39],[1.506,9.39],[1.534,6.43],[1.577,5.87],[1.477,4.43],[1.676,11.08],[1.719,10.14],[1.719,8.05],[1.719,8.47],[1.776,8.77],[1.818,8.27],[1.861,8.44],[1.932,9.3],[2.031,7.94],[2.457,9.69],[2.642,7.85],[2.713,10.23],[2.77,6.27],[2.955,10.29],[2.955,9.43],[3.054,8.14],[3.281,9.37],[3.778,9.1],[3.92,6.1],[4.233,4.81],[4.304,9.58],[4.446,8.06],[4.489,8.59],[4.702,7.39],[4.773,10.88],[4.972,6.95],[5.014,8.0],[5.057,11.06],[5.27,7.37],[5.327,9.54],[5.511,10.8],[5.582,9.36],[5.582,7.19],[5.653,8.93],[5.653,8.19],[5.866,7.31],[6.364,6.51],[6.548,6.67],[6.577,6.43],[7.003,8.95],[7.074,7.89],[7.102,6.78],[7.116,6.76],[7.33,6.32],[8.324,7.71]];
const D_KLRB1_FIT: F[] = [[0,9.26,8.55,9.98],[0.611,9.04,8.38,9.65],[1.179,8.82,8.27,9.54],[1.747,8.68,8.02,9.48],[2.315,8.62,7.78,9.54],[2.884,8.6,7.72,9.48],[3.594,8.55,7.72,9.37],[4.304,8.52,7.78,9.37],[4.73,8.44,7.69,9.19],[5.298,8.16,7.17,8.9],[6.009,7.78,6.56,8.77],[6.719,7.39,5.96,8.68],[7.429,7.0,5.35,8.66],[7.997,6.67,4.8,8.82],[8.324,6.51,4.47,8.88]];

// ================= Panels E & F : GEPIA correlations =================
const E1_PTS: P[] = [[2.078,0.864],[2.859,1.722],[2.859,1.118],[3.188,1.722],[3.219,1.054],[3.313,1.662],[3.328,1.219],[3.469,0.716],[3.641,1.94],[3.688,1.193],[3.813,1.762],[3.844,0.921],[3.953,1.505],[3.984,0.963],[4.078,1.406],[4.094,1.428],[4.281,1.567],[4.406,1.426],[4.625,1.267],[4.719,1.905],[4.797,0.891],[5.016,1.229],[5.094,1.356],[5.094,0.965],[5.531,0.597],[5.813,2.193],[5.906,1.199],[5.953,1.994],[5.953,1.738],[6.094,1.662],[6.156,1.04],[6.297,1.907],[6.297,0.925],[6.453,1.599],[6.469,1.076],[6.5,0.73],[6.531,0.887],[6.469,2.179],[6.813,1.124],[6.906,1.462],[6.938,1.189],[6.938,1.245],[6.922,0.931],[7.078,0.816],[7.156,1.054],[7.156,1.022],[7.25,0.683],[7.328,0.887],[7.328,1.867],[7.406,1.817],[7.375,1.265],[7.453,0.941],[7.516,0.798],[7.609,1.531],[7.688,0.653],[7.688,0.565],[7.781,1.505],[7.906,0.565],[8.016,1.636],[8.094,0.699],[8.109,1.283],[8.141,1.241],[8.172,1.112],[8.188,1.428],[8.266,0.78],[8.375,0.953],[8.453,0.812],[8.5,1.249],[8.703,1.406],[8.734,1.756],[8.734,0.536],[9.031,0.931],[9.156,1.283],[9.203,1.112],[9.406,0.887]];
const E2_PTS: P[] = [[2.109,0.657],[2.842,1.401],[2.842,0.785],[3.216,1.269],[3.309,1.365],[3.231,1.061],[3.325,1.118],[3.48,0.737],[3.667,0.762],[3.636,1.353],[3.823,1.539],[3.823,1.288],[3.979,0.94],[4.01,0.944],[4.104,1.415],[4.291,0.716],[4.26,0.642],[4.415,1.386],[4.602,0.929],[4.727,1.407],[4.805,1.034],[4.992,1.009],[5.101,0.929],[5.101,0.615],[5.538,0.538],[5.818,1.47],[5.927,1.795],[5.912,0.747],[5.974,1.558],[6.13,0.51],[6.161,1.057],[6.301,0.946],[6.317,1.811],[6.457,1.736],[6.473,1.411],[6.473,0.902],[6.519,0.818],[6.55,0.626],[6.8,0.286],[6.815,0.831],[6.909,1.005],[6.956,0.644],[7.111,0.548],[7.143,0.667],[7.174,0.806],[7.174,0.445],[7.267,0.626],[7.299,0.632],[7.361,2.017],[7.376,0.573],[7.454,1.575],[7.532,0.831],[7.595,1.175],[7.641,0.879],[7.688,0.445],[7.688,0.345],[7.797,0.869],[7.922,0.688],[8.031,0.938],[8.078,1.237],[8.14,1.17],[8.156,0.835],[8.187,0.776],[8.296,1.005],[8.42,0.611],[8.467,0.636],[8.483,1.03],[8.498,0.554],[8.701,0.774],[8.732,0.636],[8.748,0.573],[9.044,0.586],[9.122,0.586],[9.231,1.107],[9.387,0.59]];
const F1_PTS: P[] = [[1.546,2.941],[1.591,5.301],[1.591,4.654],[1.643,5.132],[1.679,6.235],[1.761,4.14],[1.787,5.566],[1.836,4.397],[1.94,4.272],[1.94,5.059],[1.947,5.963],[1.953,6.86],[1.963,5.191],[1.983,6.699],[2.012,5.11],[2.012,3.993],[2.048,5.941],[2.074,6.199],[2.129,6.493],[2.162,5.529],[2.168,6.0],[2.269,6.963],[2.302,5.941],[2.309,5.147],[2.309,4.669],[2.345,5.919],[2.361,6.088],[2.374,5.956],[2.387,6.199],[2.403,6.103],[2.413,6.794],[2.419,6.338],[2.426,6.272],[2.433,5.375],[2.433,5.412],[2.481,8.265],[2.494,5.581],[2.501,6.346],[2.514,5.118],[2.517,6.074],[2.53,6.963],[2.534,6.941],[2.573,4.426],[2.586,4.956],[2.592,5.449],[2.651,6.588],[2.664,6.596],[2.677,6.412],[2.68,6.316],[2.684,7.044],[2.697,6.824],[2.713,7.015],[2.716,4.956],[2.723,6.971],[2.726,6.897],[2.755,6.199],[2.759,5.919],[2.794,6.449],[2.801,7.449],[2.811,7.853],[2.82,7.926],[2.843,7.397],[2.869,7.081],[2.869,6.14],[2.873,8.581],[2.863,5.625],[2.873,6.132],[2.882,6.221],[2.886,6.066],[2.896,5.743],[2.902,6.64],[2.935,7.412],[2.967,7.397],[2.974,8.632],[2.984,6.309],[2.99,8.721]];
const F2_PTS: P[] = [[1.539,0.87],[1.588,0.809],[1.588,1.316],[1.64,1.26],[1.676,0.118],[1.761,1.57],[1.777,1.542],[1.826,1.429],[1.94,1.208],[1.94,0.644],[1.953,0.216],[1.96,2.092],[1.979,0.16],[2.005,0.094],[2.005,0.795],[2.048,1.443],[2.061,0.785],[2.126,0.343],[2.162,0.085],[2.162,1.166],[2.276,0.085],[2.299,0.893],[2.305,0.757],[2.309,0.122],[2.338,1.378],[2.371,0.461],[2.39,0.085],[2.406,1.222],[2.413,0.893],[2.416,0.155],[2.423,0.296],[2.426,0.386],[2.429,0.334],[2.358,3.695],[2.478,1.519],[2.488,0.085],[2.501,1.034],[2.514,0.461],[2.517,2.511],[2.527,0.376],[2.56,0.212],[2.576,0.287],[2.592,0.132],[2.641,0.179],[2.657,0.649],[2.674,0.193],[2.68,0.108],[2.69,0.038],[2.703,0.085],[2.716,0.014],[2.723,0.005],[2.749,0.179],[2.788,1.251],[2.788,0.249],[2.804,0.085],[2.814,0.014],[2.83,0.132],[2.843,0.047],[2.863,1.415],[2.863,0.997],[2.869,0.367],[2.869,0.052],[2.886,0.381],[2.902,0.0],[2.925,0.343],[2.967,0.038],[2.974,0.179],[2.984,0.0]];

const E_XTICKS = ["2", "4", "6", "8"];
const E_YTICKS = ["0.5", "1.0", "1.5", "2.0"];
const F_XTICKS = ["1.5", "2.0", "2.5", "3.0"];
const F1_YTICKS = ["3", "4", "5", "6", "7", "8"];
const F2_YTICKS = ["0", "1", "2", "3"];
const E1_DOM = { x: [1.814, 9.686] as [number, number], y: [0.4716, 2.263] as [number, number] };
const E2_DOM = { x: [1.83, 9.697] as [number, number], y: [0.219, 2.084] as [number, number] };
const F1_DOM = { x: [1.49, 3.052] as [number, number], y: [2.706, 8.955] as [number, number] };
const F2_DOM = { x: [1.487, 3.049] as [number, number], y: [-0.151, 3.846] as [number, number] };
const E1_ANN = [`p${M}value = 0.037`, `R = ${M}0.24`];
const E2_ANN = [`p${M}value = 0.01`, `R = ${M}0.29`];
const F1_ANN = [`p${M}value = 1.2e${M}06`, "R = 0.52"];
const F2_ANN = [`p${M}value = 0.043`, `R = ${M}0.23`];
const E_XTITLE = "log2(FSCN1 TPM)";
const F_XTITLE = "log2(2 Signatures TPM)";
const YTITLES = ["log2(3 Signatures TPM)", "log2(5 Signatures TPM)", "log2(CD276 TPM)", "log2(KLRB1 TPM)"];
const PLOT_TITLES = ["FSCN1_Effector T cell", "FSCN1_Effector memory T cell", "FSCN1/FOXM1_CD276", "FSCN1/FOXM1_KLRB1"];

// ======================================================================
function minorBreaks(maj: number[], dom: [number, number]) {
  if (maj.length < 2) return [];
  const step = maj[1] - maj[0];
  const all = [maj[0] - step / 2];
  for (let i = 0; i < maj.length - 1; i++) all.push((maj[i] + maj[i + 1]) / 2);
  all.push(maj[maj.length - 1] + step / 2);
  return all.filter((v) => v > dom[0] && v < dom[1]);
}

type GGProps = {
  id: string; x0: number; y0: number; w: number; h: number; stripTop: number;
  xDom: [number, number]; yDom: [number, number]; xTicks: string[]; yTicks: string[];
  pts: P[]; fit: F[]; ann: string[]; strip: string;
  annSize: number; annDx: number; annY: [number, number];
  tickSize: number; tickGap: number; stripSize: number; r: number;
};

function GGPanel(p: GGProps) {
  const xs = d3.scaleLinear().domain(p.xDom).range([p.x0, p.x0 + p.w]);
  const ys = d3.scaleLinear().domain(p.yDom).range([p.y0 + p.h, p.y0]);
  const xMaj = p.xTicks.map(Number);
  const yMaj = p.yTicks.map(Number);
  const area = d3.area<F>().x((d) => xs(d[0])).y0((d) => ys(d[2])).y1((d) => ys(d[3])).curve(d3.curveCatmullRom.alpha(0.5));
  const line = d3.line<F>().x((d) => xs(d[0])).y((d) => ys(d[1])).curve(d3.curveCatmullRom.alpha(0.5));
  const bottom = p.y0 + p.h;
  return (
    <g>
      <defs>
        <clipPath id={`clip-${p.id}`}>
          <rect x={p.x0} y={p.y0} width={p.w} height={p.h} />
        </clipPath>
      </defs>
      <rect x={p.x0} y={p.y0} width={p.w} height={p.h} fill="#ffffff" />
      <g clipPath={`url(#clip-${p.id})`}>
        {minorBreaks(xMaj, p.xDom).map((v, i) => (
          <line key={`xm${i}`} x1={xs(v)} x2={xs(v)} y1={p.y0} y2={bottom} stroke="#F2F2F2" strokeWidth={0.9} />
        ))}
        {minorBreaks(yMaj, p.yDom).map((v, i) => (
          <line key={`ym${i}`} x1={p.x0} x2={p.x0 + p.w} y1={ys(v)} y2={ys(v)} stroke="#F2F2F2" strokeWidth={0.9} />
        ))}
        {xMaj.map((v, i) => (
          <line key={`xM${i}`} x1={xs(v)} x2={xs(v)} y1={p.y0} y2={bottom} stroke="#EBEBEB" strokeWidth={1.5} />
        ))}
        {yMaj.map((v, i) => (
          <line key={`yM${i}`} x1={p.x0} x2={p.x0 + p.w} y1={ys(v)} y2={ys(v)} stroke="#EBEBEB" strokeWidth={1.5} />
        ))}
        {p.pts.map((d, i) => (
          <circle key={`p${i}`} cx={xs(d[0])} cy={ys(d[1])} r={p.r} fill="#1c1c1c" />
        ))}
        <path d={area(p.fit) || ""} fill="#999999" fillOpacity={0.4} />
        <path d={line(p.fit) || ""} fill="none" stroke="#3366FF" strokeWidth={3.2} />
      </g>
      {p.ann.map((t, i) => (
        <text key={`a${i}`} x={p.x0 + p.w + p.annDx} y={p.y0 + p.annY[i]} textAnchor="end" dominantBaseline="central"
          fontSize={p.annSize} fill="#FF0000">{t}</text>
      ))}
      <rect x={p.x0} y={p.y0} width={p.w} height={p.h} fill="none" stroke="#333333" strokeWidth={1.2} />
      <rect x={p.x0} y={p.stripTop} width={p.w} height={p.y0 - p.stripTop} fill="#D9D9D9" stroke="#333333" strokeWidth={1.2} />
      <text x={p.x0 + p.w / 2} y={(p.stripTop + p.y0) / 2} textAnchor="middle" dominantBaseline="central" fontSize={p.stripSize} fill="#1A1A1A">{p.strip}</text>
      {p.xTicks.map((t, i) => (
        <g key={`xt${i}`}>
          <line x1={xs(xMaj[i])} x2={xs(xMaj[i])} y1={bottom} y2={bottom + 4} stroke="#333333" strokeWidth={1.1} />
          <text x={xs(xMaj[i])} y={bottom + p.tickGap} textAnchor="middle" dominantBaseline="central" fontSize={p.tickSize} fill="#4D4D4D">{t}</text>
        </g>
      ))}
    </g>
  );
}

function RowStrip(props: { x: number; y0: number; h: number; w: number; label: string; size: number;
  yDom: [number, number]; yTicks: string[]; tickSize: number; labelGap: number }) {
  const ys = d3.scaleLinear().domain(props.yDom).range([props.y0 + props.h, props.y0]);
  return (
    <g>
      <rect x={props.x} y={props.y0} width={props.w} height={props.h} fill="#D9D9D9" stroke="#333333" strokeWidth={1.4} />
      <text transform={`translate(${props.x + props.w / 2},${props.y0 + props.h / 2}) rotate(-90)`} textAnchor="middle"
        dominantBaseline="central" fontSize={props.size} fill="#1A1A1A">{props.label}</text>
      {props.yTicks.map((t, i) => {
        const y = ys(Number(t));
        return (
          <g key={i}>
            <line x1={props.x - 5} x2={props.x} y1={y} y2={y} stroke="#333333" strokeWidth={1.1} />
            <text x={props.x - props.labelGap} y={y} textAnchor="end" dominantBaseline="central" fontSize={props.tickSize} fill="#4D4D4D">{t}</text>
          </g>
        );
      })}
    </g>
  );
}

function BasePlot(p: { x0: number; y0: number; w: number; h: number; xDom: [number, number]; yDom: [number, number];
  xTicks: string[]; yTicks: string[]; pts: P[]; ann: string[]; xTitle: string; yTitle: string; title: string; titleY: number }) {
  const xs = d3.scaleLinear().domain(p.xDom).range([p.x0, p.x0 + p.w]);
  const ys = d3.scaleLinear().domain(p.yDom).range([p.y0 + p.h, p.y0]);
  const xv = p.xTicks.map(Number);
  const yv = p.yTicks.map(Number);
  const bottom = p.y0 + p.h;
  const cx = p.x0 + p.w / 2;
  return (
    <g>
      <rect x={p.x0} y={p.y0} width={p.w} height={p.h} fill="#ffffff" stroke="#000000" strokeWidth={1.1} />
      <line x1={xs(xv[0])} x2={xs(xv[xv.length - 1])} y1={bottom} y2={bottom} stroke="#000" strokeWidth={1} />
      <line x1={p.x0} x2={p.x0} y1={ys(yv[0])} y2={ys(yv[yv.length - 1])} stroke="#000" strokeWidth={1} />
      {p.xTicks.map((t, i) => (
        <g key={`x${i}`}>
          <line x1={xs(xv[i])} x2={xs(xv[i])} y1={bottom} y2={bottom + 7} stroke="#000" strokeWidth={1} />
          <text x={xs(xv[i])} y={bottom + 21} textAnchor="middle" dominantBaseline="central" fontSize={11.5} fill="#000">{t}</text>
        </g>
      ))}
      {p.yTicks.map((t, i) => (
        <g key={`y${i}`}>
          <line x1={p.x0 - 7} x2={p.x0} y1={ys(yv[i])} y2={ys(yv[i])} stroke="#000" strokeWidth={1} />
          <text transform={`translate(${p.x0 - 21},${ys(yv[i])}) rotate(-90)`} textAnchor="middle" dominantBaseline="central" fontSize={11.5} fill="#000">{t}</text>
        </g>
      ))}
      {p.pts.map((d, i) => (
        <circle key={`p${i}`} cx={xs(d[0])} cy={ys(d[1])} r={1.9} fill="#000" />
      ))}
      {p.ann.map((t, i) => (
        <text key={`a${i}`} x={p.x0 + 17} y={p.y0 + 16 + i * 17.5} dominantBaseline="central" fontSize={14} fill="#000">{t}</text>
      ))}
      <text x={cx} y={bottom + 46} textAnchor="middle" dominantBaseline="central" fontSize={16.5} fill="#000">{p.xTitle}</text>
      <text transform={`translate(${p.x0 - 47},${p.y0 + p.h / 2}) rotate(-90)`} textAnchor="middle" dominantBaseline="central" fontSize={16.5} fill="#000">{p.yTitle}</text>
      <text x={cx} y={p.titleY} textAnchor="middle" dominantBaseline="central" fontSize={26} fill="#000">{p.title}</text>
    </g>
  );
}

export default function App() {
  const lefts = [167, 421.5, 676, 930, 1184.5, 1439, 1693];
  const pw = 245;
  const rows = [
    { stripTop: 3, top: 27, h: 236, yDom: ROW_A_YDOMAIN, yTicks: ROW_A_YTICKS, pts: A_PTS, fits: A_FITS, ann: A_ANN, title: ROW_A_TITLE, id: "a" },
    { stripTop: 317, top: 342, h: 235, yDom: ROW_B_YDOMAIN, yTicks: ROW_B_YTICKS, pts: B_PTS, fits: B_FITS, ann: B_ANN, title: ROW_B_TITLE, id: "b" },
  ];
  const cd = [
    { id: "c", lefts: [278, 590], ws: [302, 302], stripX: 248, yDom: C_YDOMAIN, yTicks: C_YTICKS, xDoms: C_XDOMAINS,
      pts: [C_CD276_PTS, C_KLRB1_PTS], fits: [C_CD276_FIT, C_KLRB1_FIT], ann: C_ANN, row: "FSCN1", ytx: 204, labelGap: 10 },
    { id: "d", lefts: [1156.2, 1462.5], ws: [295.2, 294.8], stripX: 1126, yDom: D_YDOMAIN, yTicks: D_YTICKS, xDoms: D_XDOMAINS,
      pts: [D_CD276_PTS, D_KLRB1_PTS], fits: [D_CD276_FIT, D_KLRB1_FIT], ann: D_ANN, row: "FOXM1", ytx: 1068, labelGap: 9 },
  ];
  const letters = [
    { t: "A", x: 1, y: 47 }, { t: "B", x: 3, y: 358 }, { t: "C", x: 7, y: 676 },
    { t: "D", x: 983, y: 676 }, { t: "E", x: 11, y: 1027 }, { t: "F", x: 979, y: 1023 },
  ];
  return (
    <svg width={1946} height={1434} viewBox="0 0 1946 1434" fontFamily={FONT}
      style={{ position: "absolute", left: 0, top: 0, background: "#ffffff" }}>
      <rect x={0} y={0} width={1946} height={1434} fill="#ffffff" />
      {letters.map((l) => (
        <text key={l.t} x={l.x} y={l.y} fontSize={52} fill="#000">{l.t}</text>
      ))}

      {rows.map((r) => (
        <g key={r.id}>
          <RowStrip x={141} y0={r.top} h={r.h} w={25.5} label="ACC" size={13.3} yDom={r.yDom} yTicks={r.yTicks} tickSize={14} labelGap={9} />
          {CELL_TYPES.map((c, i) => (
            <GGPanel key={c} id={`${r.id}${i}`} x0={lefts[i]} y0={r.top} w={pw} h={r.h} stripTop={r.stripTop}
              xDom={CELL_XDOMAINS[i]} yDom={r.yDom} xTicks={CELL_XTICKS[i]} yTicks={r.yTicks}
              pts={r.pts[i]} fit={r.fits[i]} ann={r.ann[i]} strip={c}
              annSize={16.5} annDx={-4} annY={[12.3, 28.5]} tickSize={13.5} tickGap={13} stripSize={13.5} r={3.9} />
          ))}
          <text x={1052.5} y={r.top + r.h + 32} textAnchor="middle" dominantBaseline="central" fontSize={16}>{INFIL_TITLE}</text>
          <text transform={`translate(102,${r.top + r.h / 2}) rotate(-90)`} textAnchor="middle" dominantBaseline="central" fontSize={16}>{r.title}</text>
        </g>
      ))}

      {cd.map((s) => (
        <g key={s.id}>
          <RowStrip x={s.stripX} y0={653} h={277} w={s.lefts[0] - s.stripX} label={s.row} size={13.5} yDom={s.yDom} yTicks={s.yTicks} tickSize={14} labelGap={s.labelGap} />
          {GENES.map((g, i) => (
            <GGPanel key={g} id={`${s.id}${i}`} x0={s.lefts[i]} y0={653} w={s.ws[i]} h={277} stripTop={624}
              xDom={s.xDoms[i]} yDom={s.yDom} xTicks={CD_XTICKS[i]} yTicks={s.yTicks}
              pts={s.pts[i]} fit={s.fits[i]} ann={s.ann[i]} strip={g}
              annSize={16} annDx={-8} annY={[17.7, 42]} tickSize={14} tickGap={14} stripSize={14.5} r={4} />
          ))}
          <text x={(s.lefts[0] + s.lefts[1] + s.ws[1]) / 2} y={967} textAnchor="middle" dominantBaseline="central" fontSize={19}>{CD_TITLE}</text>
          <text transform={`translate(${s.ytx},791.5) rotate(-90)`} textAnchor="middle" dominantBaseline="central" fontSize={19}>{CD_TITLE}</text>
        </g>
      ))}

      <BasePlot x0={203.3} y0={1037.3} w={308.5} h={296.7} xDom={E1_DOM.x} yDom={E1_DOM.y} xTicks={E_XTICKS} yTicks={E_YTICKS}
        pts={E1_PTS} ann={E1_ANN} xTitle={E_XTITLE} yTitle={YTITLES[0]} title={PLOT_TITLES[0]} titleY={1418} />
      <BasePlot x0={585.9} y0={1037.3} w={309.1} h={296.7} xDom={E2_DOM.x} yDom={E2_DOM.y} xTicks={E_XTICKS} yTicks={E_YTICKS}
        pts={E2_PTS} ann={E2_ANN} xTitle={E_XTITLE} yTitle={YTITLES[1]} title={PLOT_TITLES[1]} titleY={1418} />
      <BasePlot x0={1126} y0={1036.7} w={295.1} h={283.3} xDom={F1_DOM.x} yDom={F1_DOM.y} xTicks={F_XTICKS} yTicks={F1_YTICKS}
        pts={F1_PTS} ann={F1_ANN} xTitle={F_XTITLE} yTitle={YTITLES[2]} title={PLOT_TITLES[2]} titleY={1413} />
      <BasePlot x0={1501.2} y0={1036.7} w={295.1} h={283.3} xDom={F2_DOM.x} yDom={F2_DOM.y} xTicks={F_XTICKS} yTicks={F2_YTICKS}
        pts={F2_PTS} ann={F2_ANN} xTitle={F_XTITLE} yTitle={YTITLES[3]} title={PLOT_TITLES[3]} titleY={1411} />
    </svg>
  );
}
